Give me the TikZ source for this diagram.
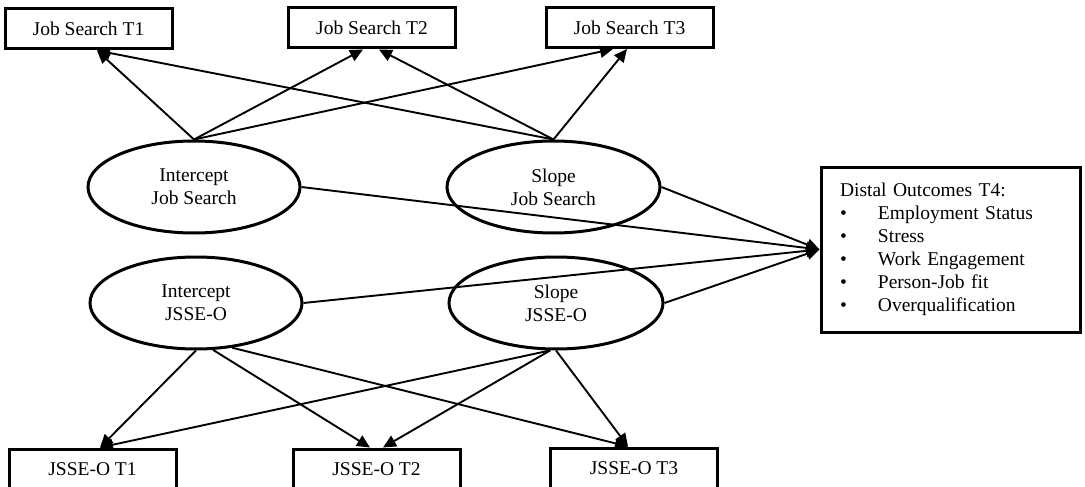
\documentclass[tikz,border=0pt]{standalone}
\usepackage{fontspec}
\setmainfont{Liberation Serif}
\usetikzlibrary{arrows.meta,shapes.geometric,calc}
\begin{document}
\begin{tikzpicture}[x=1pt,y=-1pt,
  font=\fontsize{19.5}{23}\selectfont,
  obs/.style={draw, line width=3pt, rectangle, inner sep=0pt, minimum width=167pt, minimum height=40pt},
  lat/.style={draw, line width=3pt, ellipse, inner sep=0pt, minimum width=212pt, minimum height=92pt, align=center},
  conn/.style={line width=1.9pt, -{Triangle[length=13pt,width=12pt]}}]
\clip (0,0) rectangle (1085,487);
\useasboundingbox (0,0) rectangle (1085,487);
% observed indicators
\node[obs] (jst1) at (88.5,29) {Job Search T1};
\node[obs] (jst2) at (372,28) {Job Search T2};
\node[obs] (jst3) at (629.5,27.5) {Job Search T3};
\node[obs] (jt1) at (92.5,469) {JSSE-O T1};
\node[obs] (jt2) at (376.5,469) {JSSE-O T2};
\node[obs] (jt3) at (634,468) {JSSE-O T3};
% latent growth factors
\node[lat] (ijs) at (194,187) {Intercept\\Job Search};
\node[lat, minimum width=213pt] (sjs) at (553.5,187) {Slope\\Job Search};
\node[lat] (iso) at (196,303) {Intercept\\JSSE-O};
\node[lat, minimum width=214pt] (sso) at (556,303) {Slope\\JSSE-O};
% distal outcomes
\node[draw, line width=3pt, rectangle, minimum width=259pt, minimum height=165pt,
      inner xsep=19pt, text width=221pt, align=left] (dist) at (950.5,249.5)
  {Distal Outcomes T4:\\
   \makebox[38pt][l]{•}Employment Status\\
   \makebox[38pt][l]{•}Stress\\
   \makebox[38pt][l]{•}Work Engagement\\
   \makebox[38pt][l]{•}Person-Job fit\\
   \makebox[38pt][l]{•}Overqualification};
% arrow end points
\coordinate (a1) at ($(jst1.south)+(8.5,0)$);
\coordinate (a2l) at ($(jst2.south)+(-9,0)$);
\coordinate (a2r) at ($(jst2.south)+(7,0)$);
\coordinate (a3l) at ($(jst3.south)+(-16.5,0)$);
\coordinate (a3r) at ($(jst3.south)+(-2.5,0)$);
\coordinate (b1) at ($(jt1.north)+(7.5,0)$);
\coordinate (b2l) at ($(jt2.north)+(-6.5,0)$);
\coordinate (b2r) at ($(jt2.north)+(6.5,0)$);
\coordinate (b3) at ($(jt3.north)+(-6,0)$);
% job search loadings
\draw[conn] (ijs.north) -- (a1);
\draw[conn] (ijs.north) -- (a2l);
\draw[conn] (ijs.north) -- (a3l);
\draw[conn] (sjs.north) -- (a1);
\draw[conn] (sjs.north) -- (a2r);
\draw[conn] (sjs.north) -- (a3r);
% JSSE-O loadings
\draw[conn] (iso.south) -- (b1);
\draw[conn] (iso.-70) -- (b2l);
\draw[conn] (iso.-51) -- (b3);
\draw[conn] (sso.-97) -- (b1);
\draw[conn] (sso.-97) -- (b2r);
\draw[conn] (sso.south) -- (b3);
% distal paths
\draw[conn] (ijs.east) -- (dist.west);
\draw[conn] (sjs.east) -- (dist.west);
\draw[conn] (iso.east) -- (dist.west);
\draw[conn] (sso.east) -- (dist.west);
\end{tikzpicture}
\end{document}
